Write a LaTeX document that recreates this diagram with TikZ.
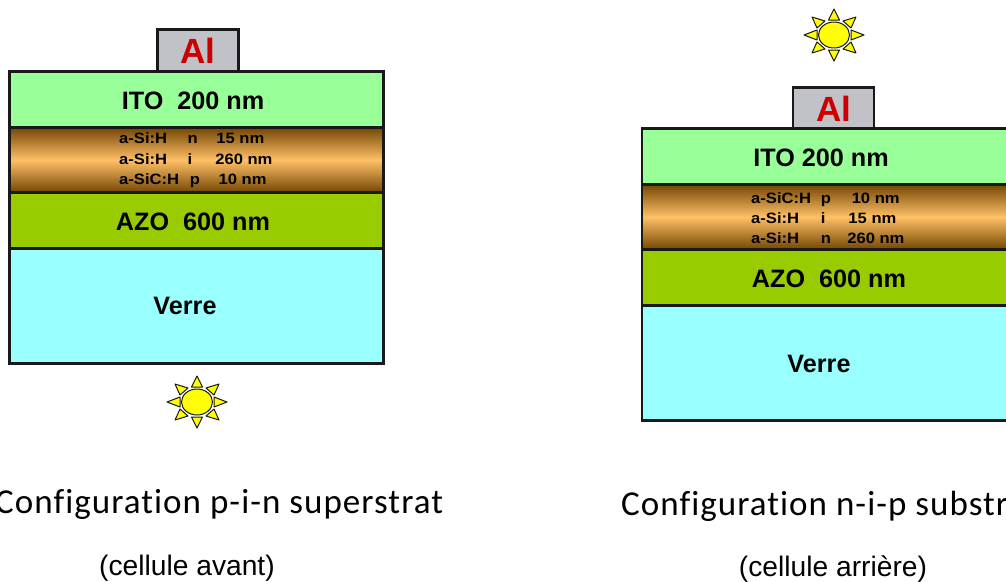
\documentclass[tikz,border=0pt]{standalone}
\usepackage{fontspec}
\setmainfont{Liberation Sans}
\newfontfamily\capfont[LetterSpace=3,Ligatures=NoCommon]{Carlito}
\definecolor{itoc}{HTML}{99FF99}
\definecolor{azoc}{HTML}{99CC00}
\definecolor{verrec}{HTML}{99FFFF}
\definecolor{alc}{HTML}{C0C2C8}
\definecolor{alt}{HTML}{CC0000}
\definecolor{sid}{HTML}{744604}
\definecolor{sim}{HTML}{FFC066}
\definecolor{sunc}{HTML}{FFFF00}
\newcommand{\siline}[5]{\makebox[#4pt][l]{#1}\makebox[#5pt][l]{#2}#3}
\tikzset{
  x=1pt,y=-1pt,
  layer/.style={draw=black!90,line width=2.2pt,anchor=north west,inner sep=0pt,outer sep=0pt,font=\bfseries\fontsize{25.2}{27}\selectfont},
  ito/.style={layer,fill=itoc,minimum width=#1,minimum height=56pt},
  si/.style={layer,top color=sid,bottom color=sid,middle color=sim,minimum width=#1,minimum height=65pt},
  azo/.style={layer,fill=azoc,minimum width=#1,minimum height=56pt},
  verre/.style={layer,fill=verrec,minimum width=#1,minimum height=115pt},
  al/.style={layer,fill=alc,text=alt,minimum width=81pt,minimum height=42pt,font=\bfseries\fontsize{35}{37}\selectfont},
  siline/.style={anchor=base west,inner sep=0pt,font=\bfseries\fontsize{15}{16}\selectfont,xscale=1.105},
  caption/.style={anchor=base west,inner sep=0pt,font=\capfont\fontsize{35}{38}\selectfont},
  sub/.style={anchor=center,inner sep=0pt,font=\fontsize{28.2}{30}\selectfont},
  ray/.style={draw=black!90,fill=sunc,line width=1pt,line join=round},
  sun/.pic={
    \foreach \a/\b/\c/\d/\e/\f in {0/-26/-5.5/-15/5.5/-15,0/26/-5.5/15/5.5/15,-30/0/-17/-5/-17/5,30/0/17/-5/17/5,
      -22/-18/-9/-14/-17/-7,22/-18/9/-14/17/-7,-22/18/-9/14/-17/7,22/18/9/14/17/7}
      \draw[ray] (\a,\b) -- (\c,\d) -- (\e,\f) -- cycle;
    \draw[ray] (0,0) ellipse [x radius=15.5,y radius=13];
  }
}
\begin{document}
\begin{tikzpicture}
\useasboundingbox (0,0) rectangle (1006,581);
\clip (0,0) rectangle (1006,581);
% left stack
\node[al] (alL) at (157.5,29.5) {Al};
\node[ito=374pt] (itoL) at (9.5,71.5) {};
\node[si=374pt] (siL) at (9.5,127.5) {};
\node[azo=374pt] (azoL) at (9.5,192.5) {};
\node[verre=374pt] (verreL) at (9.5,248.5) {};
\node[layer,draw=none,anchor=center] (itoLt) at (193,101) {ITO\ \ 200 nm};
\node[layer,draw=none,anchor=center] (azoLt) at (193,222) {AZO\ \ 600 nm};
\node[layer,draw=none,anchor=center] (verreLt) at (185,306) {Verre};
\node[siline] (l1) at (119,143) {\siline{a-Si:H}{n}{15 nm}{62}{26}};
\node[siline] (l2) at (119,164) {\siline{a-Si:H}{i}{260 nm}{62}{25}};
\node[siline] (l3) at (119,184) {\siline{a-SiC:H}{p}{10 nm}{64}{26}};
\pic at (197,402) {sun};
\node[caption] (capL) at (-5,513) {Configuration p-i-n superstrat};
\node[sub] (subL) at (187,568) {(cellule avant)};
% right stack
\node[al] (alR) at (793,87.5) {Al};
\node[ito=380pt] (itoR) at (642,128.5) {};
\node[si=380pt] (siR) at (642,184.5) {};
\node[azo=380pt] (azoR) at (642,249.5) {};
\node[verre=380pt] (verreR) at (642,305.5) {};
\node[layer,draw=none,anchor=center] (itoRt) at (821,158) {ITO 200 nm};
\node[layer,draw=none,anchor=center] (azoRt) at (829,279) {AZO\ \ 600 nm};
\node[layer,draw=none,anchor=center] (verreRt) at (819,364) {Verre};
\node[siline] (r1) at (751,203) {\siline{a-SiC:H}{p}{10 nm}{63}{28}};
\node[siline] (r2) at (751,223) {\siline{a-Si:H}{i}{15 nm}{63}{25}};
\node[siline] (r3) at (751,243) {\siline{a-Si:H}{n}{260 nm}{63}{24}};
\pic at (834,35) {sun};
\node[caption] (capR) at (621,515) {Configuration n-i-p substrat};
\node[sub] (subR) at (833,569) {(cellule arrière)};
\end{tikzpicture}
\end{document}
